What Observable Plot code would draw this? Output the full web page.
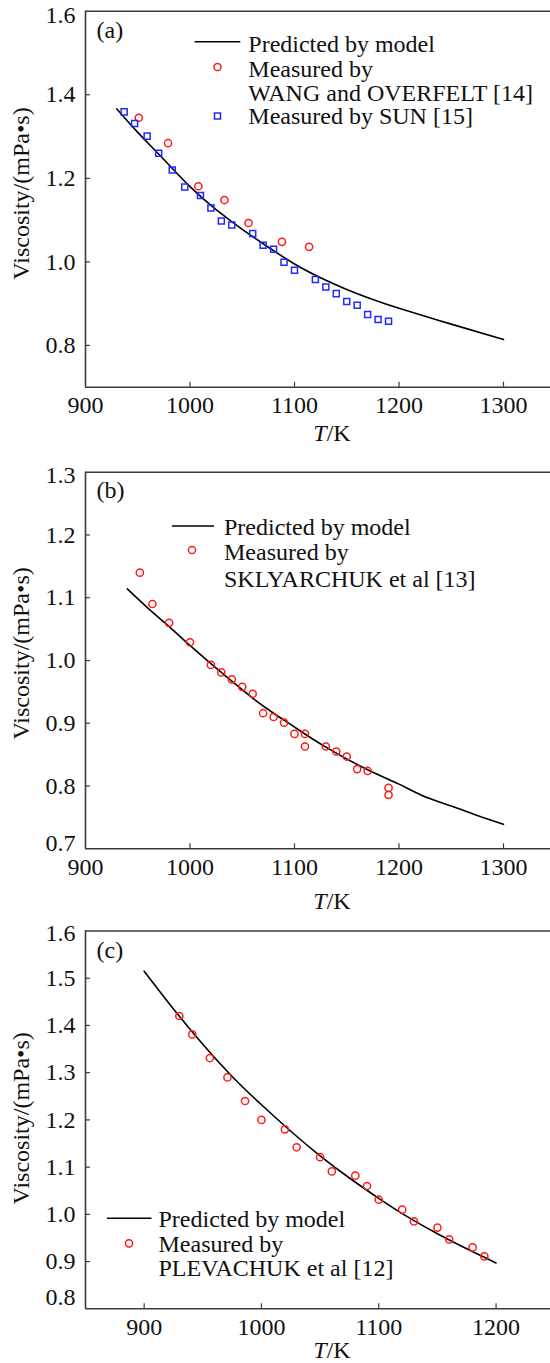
<!DOCTYPE html>
<html><head><meta charset="utf-8">
<script src="https://cdn.jsdelivr.net/npm/d3@7"></script>
<script src="https://cdn.jsdelivr.net/npm/@observablehq/plot@0.6"></script>
<style>
body{margin:0;background:#fff;}
#wrap{position:relative;width:550px;height:1363px;overflow:hidden;background:#fff;}
#wrap svg{position:absolute;left:0;}
</style></head><body><div id="wrap"></div>
<script>
// ---------- Panel (a) ----------
const modelA_T = [930, 950, 975, 1000, 1025, 1050, 1075, 1100, 1125, 1150, 1175, 1200, 1250, 1300];
const modelA_V = [1.366, 1.310, 1.245, 1.180, 1.125, 1.078, 1.035, 0.995, 0.962, 0.934, 0.910, 0.889, 0.851, 0.814];
const wang_T = [951, 979, 1008, 1033, 1056, 1088, 1114];
const wang_V = [1.345, 1.284, 1.181, 1.148, 1.093, 1.048, 1.036];
const sun_T = [937, 947, 959, 970, 983, 995, 1010, 1020, 1030, 1040, 1060, 1070, 1080, 1090, 1100, 1120, 1130, 1140, 1150, 1160, 1170, 1180, 1190];
const sun_V = [1.359, 1.331, 1.301, 1.260, 1.220, 1.179, 1.159, 1.129, 1.098, 1.088, 1.068, 1.040, 1.030, 0.999, 0.980, 0.958, 0.940, 0.924, 0.905, 0.896, 0.874, 0.862, 0.858];
// ---------- Panel (b) ----------
const modelB_T = [940, 960, 980, 1000, 1020, 1040, 1060, 1080, 1100, 1130, 1170, 1200, 1222, 1250, 1275, 1300];
const modelB_V = [1.114, 1.083, 1.054, 1.024, 0.995, 0.967, 0.940, 0.916, 0.894, 0.862, 0.826, 0.803, 0.785, 0.768, 0.753, 0.739];
const sklyar_T = [952, 964, 980, 1000, 1020, 1030, 1040, 1050, 1060, 1070, 1080, 1090, 1100, 1110, 1110, 1130, 1140, 1150, 1160, 1170, 1190, 1190];
const sklyar_V = [1.140, 1.090, 1.060, 1.029, 0.993, 0.981, 0.970, 0.958, 0.947, 0.916, 0.910, 0.901, 0.883, 0.883, 0.863, 0.863, 0.855, 0.847, 0.827, 0.824, 0.797, 0.786];
// ---------- Panel (c) ----------
const modelC_T = [900, 925, 950, 975, 1000, 1025, 1050, 1075, 1100, 1125, 1150, 1175, 1200];
const modelC_V = [1.515, 1.435, 1.360, 1.292, 1.232, 1.176, 1.124, 1.077, 1.034, 0.994, 0.959, 0.927, 0.897];
const plev_T = [930, 941, 956, 971, 986, 1000, 1020, 1030, 1050, 1060, 1080, 1090, 1100, 1120, 1130, 1150, 1160, 1180, 1190];
const plev_V = [1.420, 1.381, 1.331, 1.290, 1.240, 1.200, 1.180, 1.142, 1.121, 1.091, 1.082, 1.060, 1.031, 1.010, 0.985, 0.972, 0.947, 0.930, 0.911];
// ---------- ticks & labels ----------
const xTicksAB = [900, 1000, 1100, 1200, 1300];
const xTicksC = [900, 1000, 1100, 1200];
const yTicksA = [0.8, 1.0, 1.2, 1.4, 1.6];
const yTicksB = [0.7, 0.8, 0.9, 1.0, 1.1, 1.2, 1.3];
const yTicksC = [0.8, 0.9, 1.0, 1.1, 1.2, 1.3, 1.4, 1.5, 1.6];
const yLabel = "Viscosity/(mPa•s)";
const labModel = "Predicted by model";

const zip = (T, V) => T.map((t, i) => ({T: t, V: V[i]}));
const FONT = "Liberation Serif, Times New Roman, serif";
const AXC = "#3a3a3a";
const RED = "#ff1a1a", BLUE = "#1f2bff";

function panel(cfg) {
  const W = 550, ml = 85;
  const innerH = cfg.height - cfg.mt - cfg.mb, innerW = W - ml;
  const xd = cfg.xDomain, yd = cfg.yDomain;
  const yt = cfg.yTicks;
  const fmt = d3.format(".1f");
  const ax = {tickSize: 0, tickPadding: 10, label: null, tickFormat: fmt, fill: "#111"};
  const marks = [
    Plot.tickX(cfg.xTicks.filter(d => d > xd[0]), {x: d => d, insetTop: innerH - 5, stroke: AXC, strokeWidth: 1.2}),
    Plot.tickY(yt.filter(d => d > yd[0] && d < yd[1]), {y: d => d, insetRight: innerW - 5, stroke: AXC, strokeWidth: 1.2}),
    Plot.ruleX([xd[0]], {stroke: AXC, strokeWidth: 1.6}),
    Plot.ruleY([yd[0]], {stroke: AXC, strokeWidth: 1.6}),
    Plot.ruleY([yd[1]], {stroke: AXC, strokeWidth: 1.6}),
    Plot.axisX(cfg.xTicks, {tickSize: 0, tickPadding: 9, label: null, tickFormat: d => String(d), fill: "#111"}),
    Plot.axisY(yt.slice(1, -1), ax),
    Plot.axisY([yt[0]], {...ax, dy: cfg.lowDy || 0}),
    Plot.axisY([yt[yt.length - 1]], {...ax, dy: cfg.topDy || 0}),
    Plot.line(cfg.model, {x: "T", y: "V", stroke: "#000", strokeWidth: 1.6, curve: "natural"}),
    ...cfg.dots
  ];
  const svg = Plot.plot({
    width: W, height: cfg.height,
    marginLeft: ml, marginRight: 0, marginTop: cfg.mt, marginBottom: cfg.mb,
    x: {domain: xd}, y: {domain: yd},
    style: {fontFamily: FONT, fontSize: "24px", background: "transparent", color: "#111", overflow: "visible"},
    marks
  });
  svg.style.top = cfg.top + "px";
  const s = d3.select(svg);
  const txt = (x, y, t) => s.append("text").attr("x", x).attr("y", y - cfg.top)
      .attr("text-anchor", "start").attr("font-family", FONT).attr("font-size", 24).attr("fill", "#111").text(t);
  // panel letter
  txt(96.5, cfg.letterY, cfg.letter);
  // y title
  s.append("text").attr("transform", `translate(28.5,${cfg.yLabelY - cfg.top}) rotate(-90)`)
    .attr("text-anchor", "middle").attr("font-family", FONT).attr("font-size", 24).attr("fill", "#111").text(yLabel);
  // x title
  const xt = s.append("text").attr("x", 332).attr("y", cfg.xLabelY - cfg.top).attr("text-anchor", "middle")
    .attr("font-family", FONT).attr("font-size", 24).attr("fill", "#111");
  xt.append("tspan").attr("font-style", "italic").text("T");
  xt.append("tspan").text("/K");
  // legend
  const L = cfg.legend;
  s.append("line").attr("x1", L.lineX1).attr("x2", L.lineX2).attr("y1", L.lineY - cfg.top).attr("y2", L.lineY - cfg.top)
    .attr("stroke", "#000").attr("stroke-width", 1.6);
  txt(L.textX, L.rows[0], labModel);
  for (const it of L.items) {
    if (it.shape === "circle") {
      s.append("circle").attr("cx", L.symX).attr("cy", it.symY - cfg.top).attr("r", 3.6)
        .attr("fill", "none").attr("stroke", RED).attr("stroke-width", 1.5);
    } else {
      s.append("rect").attr("x", L.symX - 3).attr("y", it.symY - cfg.top - 3).attr("width", 6).attr("height", 6)
        .attr("fill", "none").attr("stroke", BLUE).attr("stroke-width", 1.5);
    }
    it.lines.forEach((ln, j) => txt(L.textX, it.rows[j], ln));
  }
  document.getElementById("wrap").appendChild(svg);
}

panel({
  top: 0, height: 456, mt: 10.7, mb: 69.3,
  xDomain: [900, 1345], yDomain: [0.7, 1.6], xTicks: xTicksAB, yTicks: yTicksA, topDy: 4,
  model: zip(modelA_T, modelA_V),
  dots: [
    Plot.dot(zip(wang_T, wang_V), {x: "T", y: "V", r: 3.6, fill: "none", stroke: RED, strokeWidth: 1.5}),
    Plot.dot(zip(sun_T, sun_V), {x: "T", y: "V", r: 3.4, symbol: "square", fill: "none", stroke: BLUE, strokeWidth: 1.5})
  ],
  letter: "(a)", letterY: 38, yLabelY: 193.5, xLabelY: 441,
  legend: {lineX1: 194.7, lineX2: 240.3, lineY: 41.7, textX: 248.3, symX: 217.5, rows: [51.7],
    items: [
      {shape: "circle", symY: 67, lines: ["Measured by", "WANG and OVERFELT [14]"], rows: [76.7, 100.5]},
      {shape: "square", symY: 116, lines: ["Measured by SUN [15]"], rows: [124]}
    ]}
});

panel({
  top: 456, height: 456, mt: 15.7, mb: 63.7,
  xDomain: [900, 1345], yDomain: [0.7, 1.3], xTicks: xTicksAB, yTicks: yTicksB, lowDy: -5.6, topDy: 3,
  model: zip(modelB_T, modelB_V),
  dots: [
    Plot.dot(zip(sklyar_T, sklyar_V), {x: "T", y: "V", r: 3.6, fill: "none", stroke: RED, strokeWidth: 1.5})
  ],
  letter: "(b)", letterY: 498, yLabelY: 653.4, xLabelY: 909,
  legend: {lineX1: 171.9, lineX2: 214, lineY: 526, textX: 224, symX: 192, rows: [534.7],
    items: [
      {shape: "circle", symY: 550, lines: ["Measured by", "SKLYARCHUK et al [13]"], rows: [559.5, 587]}
    ]}
});

panel({
  top: 912, height: 451, mt: 18.5, mb: 54.7,
  xDomain: [850, 1246.4], yDomain: [0.8, 1.6], xTicks: xTicksC, yTicks: yTicksC, lowDy: -11, topDy: 2,
  model: zip(modelC_T, modelC_V),
  dots: [
    Plot.dot(zip(plev_T, plev_V), {x: "T", y: "V", r: 3.6, fill: "none", stroke: RED, strokeWidth: 1.5})
  ],
  letter: "(c)", letterY: 958, yLabelY: 1118.3, xLabelY: 1358,
  legend: {lineX1: 107, lineX2: 151.5, lineY: 1218.3, textX: 158.5, symX: 129, rows: [1226.7],
    items: [
      {shape: "circle", symY: 1243.3, lines: ["Measured by", "PLEVACHUK et al [12]"], rows: [1251.5, 1275.5]}
    ]}
});
</script></body></html>
